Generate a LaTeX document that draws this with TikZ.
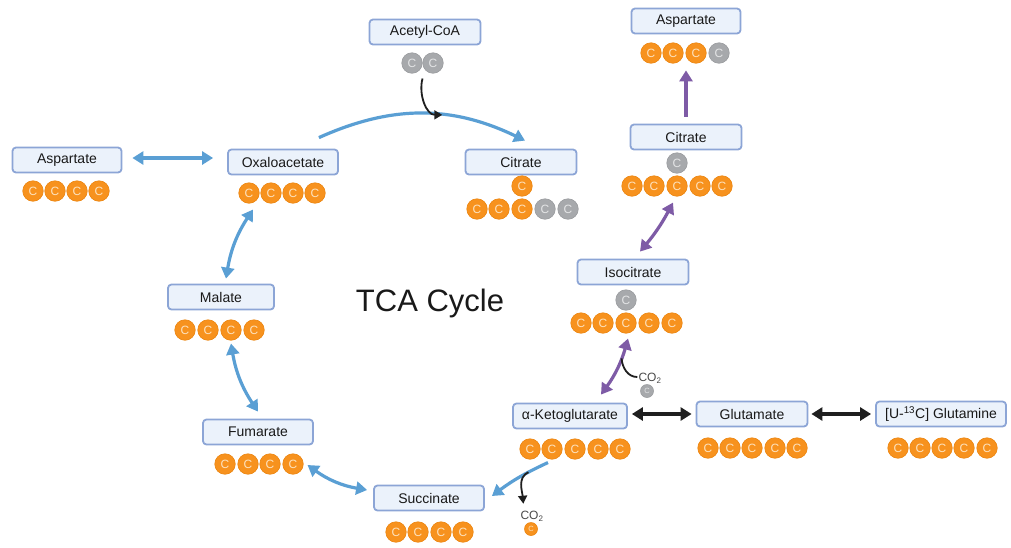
\documentclass[tikz,border=0pt]{standalone}
\usepackage{fontspec}
\setmainfont{Liberation Sans}
\usetikzlibrary{arrows.meta,calc}
\definecolor{boxfill}{HTML}{EBF2FB}
\definecolor{boxline}{HTML}{8CA5D6}
\definecolor{cycblue}{HTML}{5A9FD4}
\definecolor{cycpurple}{HTML}{7E5BA6}
\definecolor{cycblack}{HTML}{1F1F1F}
\definecolor{corange}{HTML}{F7921E}
\definecolor{corangeline}{HTML}{EC850F}
\definecolor{corangetxt}{HTML}{FDE2BE}
\definecolor{cgray}{HTML}{A7A9AC}
\definecolor{cgrayline}{HTML}{9A9C9F}
\definecolor{cgraytxt}{HTML}{E4E5E6}
\definecolor{ctxt}{HTML}{4A4A4A}
\begin{document}
\begin{tikzpicture}[x=1pt,y=1pt,
  lab/.style={draw=boxline, fill=boxfill, line width=1.8pt, rounded corners=3.5pt,
    minimum height=25pt, inner sep=0pt, font=\fontsize{14}{16}\selectfont, text=black!90},
  oc/.style={circle, fill=corange, draw=corangeline, line width=0.6pt, minimum size=20.5pt,
    inner sep=0pt, text=corangetxt, font=\fontsize{12}{14}\selectfont},
  gc/.style={oc, fill=cgray, draw=cgrayline, text=cgraytxt},
  soc/.style={oc, minimum size=13pt, font=\fontsize{7.5}{8}\selectfont},
  sgc/.style={gc, minimum size=13pt, font=\fontsize{7.5}{8}\selectfont},
  co2/.style={inner sep=0pt, text=ctxt, font=\fontsize{12}{14}\selectfont},
  bluearr/.style={draw=cycblue, line width=3.2pt, -{Triangle[length=11pt,width=13pt]}},
  bluedbl/.style={draw=cycblue, line width=3.2pt, {Triangle[length=11pt,width=13pt]}-{Triangle[length=11pt,width=13pt]}},
  purparr/.style={draw=cycpurple, line width=3.2pt, -{Triangle[length=11pt,width=13pt]}},
  purpdbl/.style={draw=cycpurple, line width=3.2pt, {Triangle[length=11pt,width=13pt]}-{Triangle[length=11pt,width=13pt]}},
  blackdbl/.style={draw=cycblack, line width=3.2pt, {Triangle[length=11pt,width=13pt]}-{Triangle[length=11pt,width=13pt]}},
  thinarr/.style={draw=cycblack, line width=1.8pt, -{Triangle[length=8pt,width=9pt]}},
  thinline/.style={draw=cycblack, line width=1.8pt}
]
\useasboundingbox (0,0) rectangle (1011,-547);
\fill[white] (0,0) rectangle (1011,-547);

% title
\node[font=\fontsize{31}{36}\selectfont, text=black!90] (title) at (430,-303) {TCA Cycle};

% labels
\node[lab, minimum width=111pt] (acoa) at (425,-32) {Acetyl-CoA};
\node[lab, minimum width=111pt] (citM) at (521,-162) {Citrate};
\node[lab, minimum width=109pt] (aspR) at (686,-21) {Aspartate};
\node[lab, minimum width=111pt] (citR) at (686,-137) {Citrate};
\node[lab, minimum width=111pt] (iso) at (633,-272) {Isocitrate};
\node[lab, minimum width=114pt] (akg) at (570,-416) {α-Ketoglutarate};
\node[lab, minimum width=111pt] (glu) at (752,-414) {Glutamate};
\node[lab, minimum width=130pt] (gln) at (941,-414) {[U-\textsuperscript{13}C] Glutamine};
\node[lab, minimum width=110pt] (succ) at (429,-498) {Succinate};
\node[lab, minimum width=110pt] (fum) at (258,-432) {Fumarate};
\node[lab, minimum width=106pt] (mal) at (221,-297) {Malate};
\node[lab, minimum width=110pt] (oaa) at (283,-162) {Oxaloacetate};
\node[lab, minimum width=109pt] (aspL) at (67,-160) {Aspartate};

% carbon atoms
\node[gc] (ac1) at (412,-63) {C};
\node[gc] (ac2) at (433,-63) {C};

\node[oc] (citMt) at (522,-186) {C};
\foreach \x/\s [count=\i] in {477/oc,499/oc,522/oc,545/gc,568/gc}
  \node[\s] (citMc\i) at (\x,-209) {C};

\foreach \x/\s [count=\i] in {651/oc,673/oc,696/oc,719/gc}
  \node[\s] (aspRc\i) at (\x,-53) {C};

\node[gc] (citRt) at (677,-163) {C};
\foreach \x [count=\i] in {632,654,677,700,722}
  \node[oc] (citRc\i) at (\x,-186) {C};

\node[gc] (isot) at (626,-300) {C};
\foreach \x [count=\i] in {581,603,626,649,672}
  \node[oc] (isoc\i) at (\x,-323) {C};

\foreach \x [count=\i] in {530,552,575,598,620}
  \node[oc] (akgc\i) at (\x,-449) {C};

\foreach \x [count=\i] in {708,730,752,775,797}
  \node[oc] (gluc\i) at (\x,-448) {C};

\foreach \x [count=\i] in {898,920,942,964,987}
  \node[oc] (glnc\i) at (\x,-448) {C};

\foreach \x [count=\i] in {396,418,441,463}
  \node[oc] (succc\i) at (\x,-532) {C};

\foreach \x [count=\i] in {225,248,270,293}
  \node[oc] (fumc\i) at (\x,-464) {C};

\foreach \x [count=\i] in {185,208,231,254}
  \node[oc] (malc\i) at (\x,-330) {C};

\foreach \x [count=\i] in {249,271,293,315}
  \node[oc] (oaac\i) at (\x,-193) {C};

\foreach \x [count=\i] in {33,55,77,99}
  \node[oc] (aspLc\i) at (\x,-191) {C};

% CO2 products
\node[co2] (co2a) at (650,-378) {CO\textsubscript{2}};
\node[sgc] (co2ac) at (647,-391) {C};
\node[co2] (co2b) at (532,-516) {CO\textsubscript{2}};
\node[soc] (co2bc) at (531,-529) {C};

% connectors
\draw[bluedbl] ($(aspL.east)+(10,2)$) -- ($(oaa.west)+(-14,4)$);
\draw[bluearr] ($(oaa.north east)+(-20,11)$) to[bend left=25] coordinate[pos=0.6] (arcpt) ($(citM.north)+(4,8)$);
\draw[thinarr] ($(ac1.south)!0.5!(ac2.south)+(0,-5)$) to[out=-105,in=180] (arcpt);

\draw[purparr] ($(citR.north)+(0,7)$) -- ($(aspR.south)+(0,-36)$);
\draw[purpdbl] ($(iso.north)+(7,7)$) to[bend right=6] ($(citRc3.south)+(-4,-6)$);
\draw[purpdbl] ($(akg.north)+(31,8)$) to[bend right=10] coordinate[pos=0.68] (isosplit) ($(isoc3.south)+(2,-5)$);
\draw[thinline] (isosplit) to[out=-85,in=180] ($(co2a.west)+(-1,1)$);

\draw[blackdbl] ($(akg.east)+(4,2)$) -- ($(glu.west)+(-4,0)$);
\draw[blackdbl] ($(glu.east)+(3,0)$) -- ($(gln.west)+(-4,0)$);

\draw[bluearr] ($(akgc2.south)+(-4,-3)$) to[bend right=6] coordinate[pos=0.32] (akgsplit) ($(succ.east)+(7,2)$);
\draw[thinarr] (akgsplit) to[out=205,in=95] ($(co2b.north west)+(3,7)$);

\draw[bluedbl] ($(succ.west)+(-6,8)$) to[bend left=13] ($(fumc4.east)+(4,-1)$);
\draw[bluedbl] ($(malc3.south)+(0,-3)$) to[bend right=12] ($(fum.north)+(0,7)$);
\draw[bluedbl] ($(mal.north)+(5,5)$) to[bend left=12] ($(oaac1.south)+(4,-6)$);
\end{tikzpicture}
\end{document}
